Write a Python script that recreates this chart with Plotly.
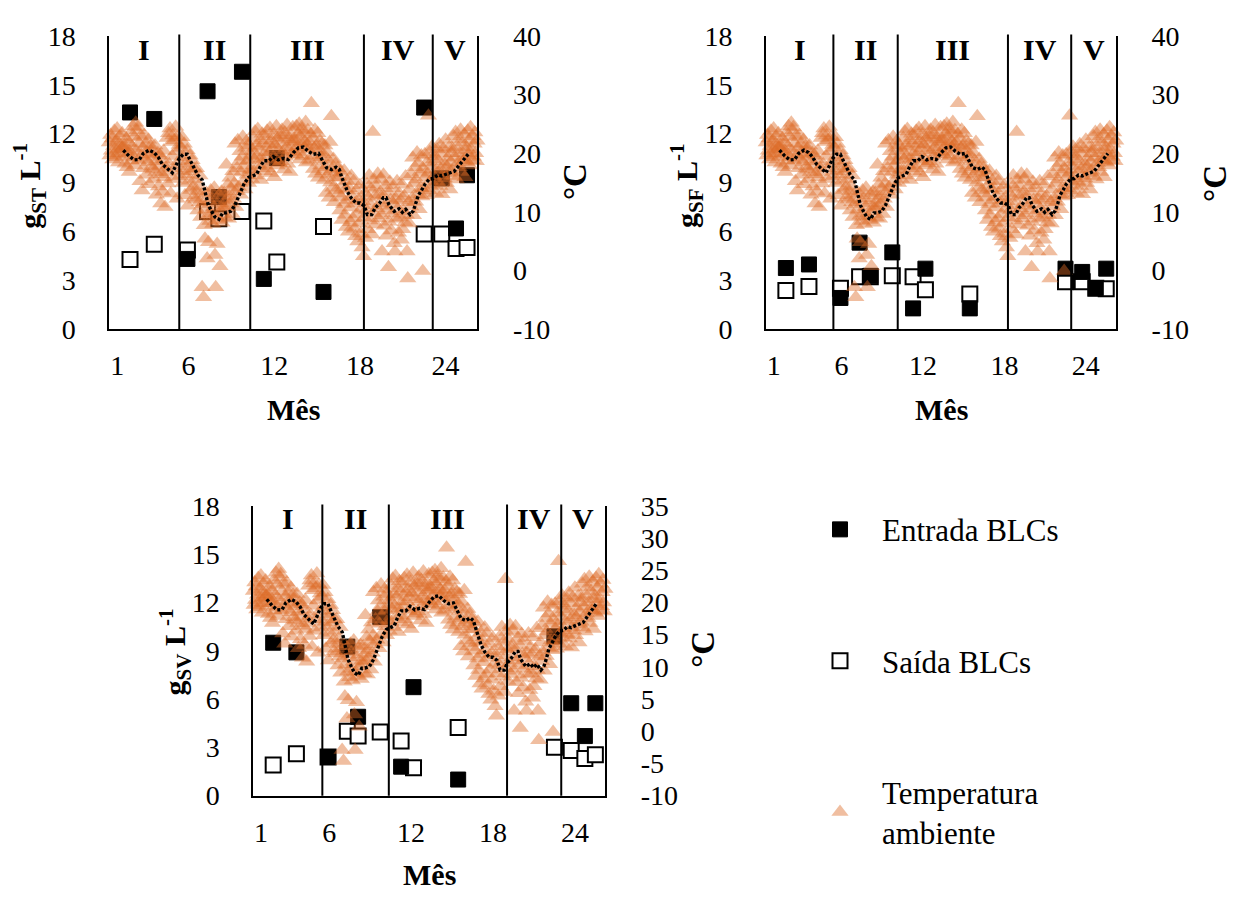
import numpy as np
import plotly.graph_objects as go

# ---------------- dados ----------------
# meses de coleta das amostras (entrada e saída dos BLCs)
meses_coleta = [1.9, 3.6, 5.92, 7.33, 8.12, 9.74, 11.27, 12.18, 15.45, 22.5, 23.73, 24.73, 25.5]

st_entrada = [13.3, 12.9, 4.3, 14.6, 8.1, 15.8, 3.07, 10.5, 2.27, 13.6, 9.25, 6.17, 9.44]
st_saida = [4.26, 5.2, 4.85, 7.22, 6.77, 7.22, 6.63, 4.11, 6.29, 5.83, 5.83, 4.94, 5.0]

sf_entrada = [3.74, 3.96, 1.9, 5.3, 3.26, 4.7, 1.26, 3.7, 1.26, 3.7, 3.5, 2.5, 3.7]
sf_saida = [2.36, 2.6, 2.5, 3.2, 3.2, 3.26, 3.2, 2.4, 2.14, 2.9, 2.9, 2.5, 2.46]

sv_entrada = [9.5, 8.9, 2.4, 9.26, 4.9, 11.1, 1.8, 6.74, 1.0, 9.9, 5.74, 3.7, 5.74]
sv_saida = [1.9, 2.6, 2.4, 4.0, 3.7, 3.96, 3.4, 1.74, 4.24, 3.0, 2.8, 2.3, 2.54]

# temperatura ambiente (°C), registros a cada 0,05 mês a partir do mês 0,45
temp_inicio = 0.45
temp_passo = 0.05
temp_diaria = [
    21.8, 19.6, 23.1, 20.4, 22.5, 18.9, 21.2, 23.8, 20.0, 19.3, 22.1, 24.2, 20.7, 18.4, 21.6, 22.9, 19.9, 20.8, 23.4, 21.0,
    19.5, 21.3, 18.2, 20.6, 22.4, 17.6, 19.9, 21.8, 16.8, 20.2, 23.5, 18.7, 21.1, 24.6, 19.3, 22.7, 17.9, 25.2, 20.4, 23.9,
    24.4, 18.8, 21.7, 15.2, 22.9, 19.6, 13.6, 20.8, 17.4, 23.1, 19.0, 21.5, 16.3, 20.1, 18.5, 22.3, 14.7, 19.8, 21.2, 17.7,
    20.6, 17.2, 19.4, 15.6, 21.3, 16.8, 12.9, 18.6, 20.0, 14.3, 17.9, 19.7, 11.4, 16.4, 18.9, 13.4, 20.4, 15.9, 10.8, 17.5,
    16.8, 22.6, 14.8, 23.4, 18.1, 24.2, 13.1, 21.9, 19.5, 23.0, 15.6, 22.2, 17.4, 24.5, 20.3, 12.2, 22.8, 18.6, 21.4, 16.1,
    20.9, 17.0, 22.7, 14.9, 19.3, 21.6, 12.8, 18.2, 16.4, 20.5, 11.0, 17.8, 15.3, 19.6, 13.7, 16.9, 18.8, 14.1, 12.4, 17.3,
    15.6, 12.1, 17.4, 13.5, 10.2, 14.4, 11.6, 16.2, 9.1, 12.9, -2.9, 11.3, -4.6, 7.7, 5.4, 10.4, 13.2, 2.0, 9.3, 4.8,
    11.9, 8.4, 13.6, 9.7, 12.3, 7.9, 10.8, 14.1, 2.6, -2.9, 9.2, 4.5, 11.5, 8.6, 12.8, 0.7, 10.1, 13.4, 8.1, 11.0,
    10.5, 13.2, 9.0, 12.0, 18.0, 10.9, 14.6, 8.8, 12.6, 15.8, 11.4, 13.9, 9.6, 16.9, 12.2, 14.8, 21.6, 10.8, 13.5, 17.4,
    22.2, 14.2, 18.6, 20.3, 12.9, 16.7, 19.4, 22.8, 15.1, 17.9, 13.8, 20.9, 22.0, 16.3, 18.8, 14.9, 21.3, 17.2, 19.7, 15.6,
    20.4, 17.1, 22.6, 18.9, 23.7, 16.2, 21.2, 19.5, 24.1, 17.8, 20.9, 22.2, 15.4, 19.1, 23.3, 18.0, 21.7, 16.9, 20.1, 22.9,
    19.3, 23.8, 17.4, 21.5, 20.2, 24.3, 16.6, 22.1, 18.7, 20.8, 23.2, 15.9, 21.4, 19.0, 24.6, 17.9, 22.5, 20.5, 18.3, 23.0,
    21.6, 18.6, 24.0, 20.1, 22.7, 17.2, 23.5, 19.4, 21.0, 24.8, 18.2, 22.3, 20.6, 16.8, 23.1, 21.9, 19.7, 24.4, 20.3, 22.0,
    22.4, 19.8, 24.6, 21.1, 23.3, 20.2, 25.0, 18.9, 22.8, 21.7, 24.1, 19.5, 23.6, 20.9, 22.0, 25.3, 18.4, 21.4, 23.9, 20.6,
    21.9, 18.7, 23.2, 28.5, 19.6, 22.5, 17.3, 20.8, 24.0, 16.5, 21.2, 19.0, 23.4, 15.8, 20.4, 22.1, 17.9, 19.3, 21.6, 16.9,
    19.8, 15.4, 21.3, 17.6, 13.2, 20.1, 16.3, 18.7, 12.4, 21.9, 15.0, 26.3, 17.2, 14.1, 19.0, 11.6, 16.6, 18.2, 13.7, 15.8,
    17.4, 13.1, 15.9, 10.2, 16.8, 12.5, 8.6, 14.6, 11.3, 17.0, 9.5, 13.8, 7.4, 15.3, 12.0, 6.6, 14.0, 10.7, 8.2, 16.1,
    12.6, 8.9, 15.2, 7.1, 11.4, 5.8, 13.6, 9.6, 4.9, 12.1, 8.0, 14.5, 6.3, 10.5, 3.9, 11.8, 2.4, 9.0, 13.2, 5.5,
    10.3, 14.7, 7.0, 12.4, 16.2, 8.5, 11.1, 13.9, 6.1, 23.6, 9.8, 15.4, 12.7, 7.8, 14.2, 10.6, 16.5, 8.9, 13.0, 11.5,
    15.6, 9.4, 3.2, 12.8, 16.3, 7.6, 11.0, 14.5, 5.9, 10.2, 13.4, 0.5, 8.3, 15.1, 12.0, 6.8, 9.7, 14.0, 11.3, 4.6,
    3.2, 12.2, 8.8, 15.2, 10.5, 6.4, 13.1, 9.0, 11.9, 5.2, 14.6, 7.0, 10.1, 12.7, 8.2, 16.0, 9.5, 3.2, -1.4, 11.6,
    8.0, 13.8, 10.9, 16.4, 12.3, 19.2, 9.4, 14.9, 17.6, 11.7, 15.5, 20.1, 13.0, 18.3, 10.4, 16.8, 14.1, 19.6, 12.6, -0.1,
    17.2, 14.0, 19.8, 15.9, 12.8, 18.4, 16.5, 26.4, 13.6, 20.2, 15.3, 17.8, 21.1, 14.6, 18.9, 16.0, 19.5, 13.2, 17.1, 20.6,
    15.1, 18.6, 21.5, 14.4, 17.3, 19.9, 13.0, 16.2, 20.8, 15.7, 18.0, 22.3, 14.9, 17.7, 19.2, 16.6, 21.0, 13.8, 18.4, 20.0,
    17.0, 20.7, 22.9, 16.1, 19.4, 23.6, 15.5, 21.2, 18.3, 22.4, 17.6, 20.0, 24.0, 16.8, 19.0, 21.8, 18.7, 23.2, 15.9, 20.5,
    21.0, 18.4, 23.8, 19.7, 22.3, 17.9, 24.4, 20.6, 18.8, 22.9, 19.4, 21.6, 23.5, 20.0, 18.6, 22.1,
]
temp_mes = temp_inicio + temp_passo * np.arange(len(temp_diaria))

# média móvel da temperatura ambiente
media_movel_mes = [
    1.43, 1.83, 2.2, 2.55, 2.83, 3.23, 3.58, 3.88, 4.16, 4.54, 4.86, 5.12, 5.35, 5.63, 5.91,
    6.15, 6.4, 6.64, 6.96, 7.1, 7.2, 7.38, 7.62, 7.85, 8.13, 8.39, 8.62, 8.95, 9.25, 9.48,
    9.67, 9.88, 10.18, 10.49, 10.77, 11.0, 11.28, 11.63, 11.93, 12.28, 12.64, 12.98, 13.33,
    13.69, 14.04, 14.39, 14.74, 15.1, 15.39, 15.67, 16.02, 16.33, 16.56, 16.72, 16.95, 17.14,
    17.42, 17.72, 18.0, 18.3, 18.52, 18.83, 19.05, 19.36, 19.64, 19.83, 20.04, 20.4, 20.74,
    20.97, 21.21, 21.51, 21.74, 21.93, 22.09, 22.33, 22.56, 22.86, 23.14, 23.45, 23.73, 24.03,
    24.31, 24.61, 24.89, 25.29, 25.62,
]
media_movel_temp = [
    20.5, 19.5, 18.85, 18.9, 19.95, 20.5, 20.1, 19.3, 18.1, 17.3, 16.65, 17.9, 19.1, 19.8, 19.8,
    18.6, 17.4, 16.3, 15.4, 13.9, 12.6, 11.15, 10.06, 9.1, 8.7, 9.8, 9.8, 10.06, 11.15, 12.5,
    13.6, 14.7, 15.8, 16.1, 16.4, 17.6, 18.7, 18.7, 19.4, 18.85, 19.1, 18.9, 20.05,
    20.9, 21.05, 20.3, 19.8, 19.95, 18.7, 17.5, 17.2, 17.6, 17.2, 15.9, 14.55, 13.35,
    12.25, 11.5, 11.5, 11.0, 9.5, 9.5, 10.6, 11.4, 12.4, 12.4, 11.15, 10.06, 10.5,
    9.9, 10.4, 9.5, 10.15, 11.4, 12.8, 13.74, 14.7, 15.55, 15.66, 16.25, 16.1, 16.4,
    16.65, 16.9, 17.75, 18.85, 19.95,
]

# limites entre as fases I-V (mês)
limites_st = [5.35, 10.32, 18.28, 23.1]
limites_sf = [5.40, 10.14, 18.26, 22.92]
limites_sv = [5.50, 10.37, 19.03, 23.0]
fases = ["I", "II", "III", "IV", "V"]

x_ticks = [1, 6, 12, 18, 24]
conc_ticks = [0, 3, 6, 9, 12, 15, 18]
temp_ticks_50 = [-10, 0, 10, 20, 30, 40]
temp_ticks_45 = [-10, -5, 0, 5, 10, 15, 20, 25, 30, 35]

# ---------------- estilo ----------------
FONT = "'Liberation Serif', 'Times New Roman', Times, serif"
W, H = 1240, 906
X_RANGE = [0.45, 26.22]
COR_TEMP = "rgba(220,108,38,0.44)"


def px(x):
    return x / W


def py(y):
    return 1 - y / H


paineis = [
    dict(sub="ST", xdom=[px(109.3), px(477.3)], ydom=[py(325), py(21.7)],
         ent=st_entrada, sai=st_saida, lim=limites_st, trange=[-10, 40], tticks=temp_ticks_50,
         ytit=(30, 176.7), ctit=(575, 173), mes_y=408),
    dict(sub="SF", xdom=[px(766.2), px(1116)], ydom=[py(325), py(21.7)],
         ent=sf_entrada, sai=sf_saida, lim=limites_sf, trange=[-10, 40], tticks=temp_ticks_50,
         ytit=(687, 177), ctit=(1215, 175), mes_y=408),
    dict(sub="SV", xdom=[px(253.4), px(605.2)], ydom=[py(808.3), py(508.3)],
         ent=sv_entrada, sai=sv_saida, lim=limites_sv, trange=[-10, 35], tticks=temp_ticks_45,
         ytit=(175, 660), ctit=(703.6, 656.7), mes_y=890),
]

fig = go.Figure()
shapes = []
annotations = []
layout_axes = {}

tick_font = dict(family=FONT, size=28, color="black")


def rotulo(**kw):
    base = dict(showarrow=False, xanchor="center", yanchor="middle")
    base.update(kw)
    return base


for i, p in enumerate(paineis, start=1):
    xa = "x" if i == 1 else f"x{i}"
    yl = "y" if i == 1 else f"y{2 * i - 1}"
    yr = f"y{2 * i}"
    xkey = "xaxis" if i == 1 else f"xaxis{i}"
    ylkey = "yaxis" if i == 1 else f"yaxis{2 * i - 1}"
    yrkey = f"yaxis{2 * i}"
    first = i == 1

    fig.add_trace(go.Scatter(
        x=meses_coleta, y=p["sai"], mode="markers", name="Saída BLCs",
        marker=dict(symbol="square", size=15, color="white", line=dict(color="black", width=2)),
        xaxis=xa, yaxis=yl, legendgroup="sai", legendrank=2, showlegend=first,
    ))
    fig.add_trace(go.Scatter(
        x=meses_coleta, y=p["ent"], mode="markers", name="Entrada BLCs",
        marker=dict(symbol="square", size=15, color="black", line=dict(color="black", width=1)),
        xaxis=xa, yaxis=yl, legendgroup="ent", legendrank=1, showlegend=first,
    ))
    fig.add_trace(go.Scatter(
        x=temp_mes, y=temp_diaria, mode="markers", name="Temperatura<br>ambiente",
        marker=dict(symbol="triangle-up", size=15, color=COR_TEMP, line=dict(width=0)),
        xaxis=xa, yaxis=yr, legendgroup="temp", legendrank=3, showlegend=first,
        cliponaxis=False,
    ))
    fig.add_trace(go.Scatter(
        x=media_movel_mes, y=media_movel_temp, mode="lines",
        line=dict(color="black", width=3.4, dash="3px,2px"),
        xaxis=xa, yaxis=yr, showlegend=False, hoverinfo="skip",
    ))

    layout_axes[xkey] = dict(
        domain=p["xdom"], anchor=yl, range=X_RANGE, tickvals=x_ticks,
        ticktext=[str(t) for t in x_ticks], showgrid=False, zeroline=False,
        showline=True, linecolor="black", linewidth=2, ticks="",
        tickfont=tick_font, ticklabelstandoff=11,
    )
    layout_axes[ylkey] = dict(
        domain=p["ydom"], anchor=xa, range=[0, 18], tickvals=conc_ticks,
        ticktext=[str(t) for t in conc_ticks], showgrid=False, zeroline=False,
        showline=True, linecolor="black", linewidth=2, ticks="",
        tickfont=tick_font, ticklabelstandoff=26,
    )
    layout_axes[yrkey] = dict(
        overlaying=yl, side="right", anchor=xa, range=p["trange"],
        tickvals=p["tticks"], ticktext=[str(t) for t in p["tticks"]],
        showgrid=False, zeroline=False, showline=True, linecolor="black",
        linewidth=2, ticks="", tickfont=tick_font, ticklabelstandoff=28,
    )

    # linhas divisórias das fases
    for lx in p["lim"]:
        shapes.append(dict(
            type="line", xref=xa, yref=f"{yl} domain", x0=lx, x1=lx, y0=0, y1=1.005,
            line=dict(color="black", width=2), layer="above",
        ))

    # rótulos das fases
    bordas = [X_RANGE[0]] + list(p["lim"]) + [X_RANGE[1]]
    for k, nome in enumerate(fases):
        annotations.append(rotulo(
            xref=xa, yref=f"{yl} domain", x=(bordas[k] + bordas[k + 1]) / 2, y=0.955,
            text=f"<b>{nome}</b>", font=dict(family=FONT, size=30, color="black"),
        ))

    annotations.append(rotulo(
        xref="paper", yref="paper", x=px(p["ytit"][0]), y=py(p["ytit"][1]),
        text=f"<b>g<sub>{p['sub']}</sub> L<sup>-1</sup></b>", textangle=-90,
        font=dict(family=FONT, size=30, color="black"),
    ))
    annotations.append(rotulo(
        xref="paper", yref="paper", x=px(p["ctit"][0]), y=py(p["ctit"][1]),
        text="<b>°C</b>", textangle=-90,
        font=dict(family=FONT, size=33, color="black"),
    ))
    annotations.append(rotulo(
        xref=f"{xa} domain", yref="paper", x=0.5, y=py(p["mes_y"]),
        text="<b>Mês</b>", font=dict(family=FONT, size=30, color="black"),
    ))

fig.update_layout(
    width=W, height=H, autosize=False,
    margin=dict(l=0, r=0, t=0, b=0),
    paper_bgcolor="white", plot_bgcolor="white",
    shapes=shapes, annotations=annotations,
    legend=dict(
        x=px(798), y=py(505), xanchor="left", yanchor="top",
        font=dict(family=FONT, size=31, color="black"),
        traceorder="grouped", tracegroupgap=88, itemwidth=74,
        bgcolor="rgba(0,0,0,0)",
    ),
    **layout_axes,
)

fig.write_html("out.html")
